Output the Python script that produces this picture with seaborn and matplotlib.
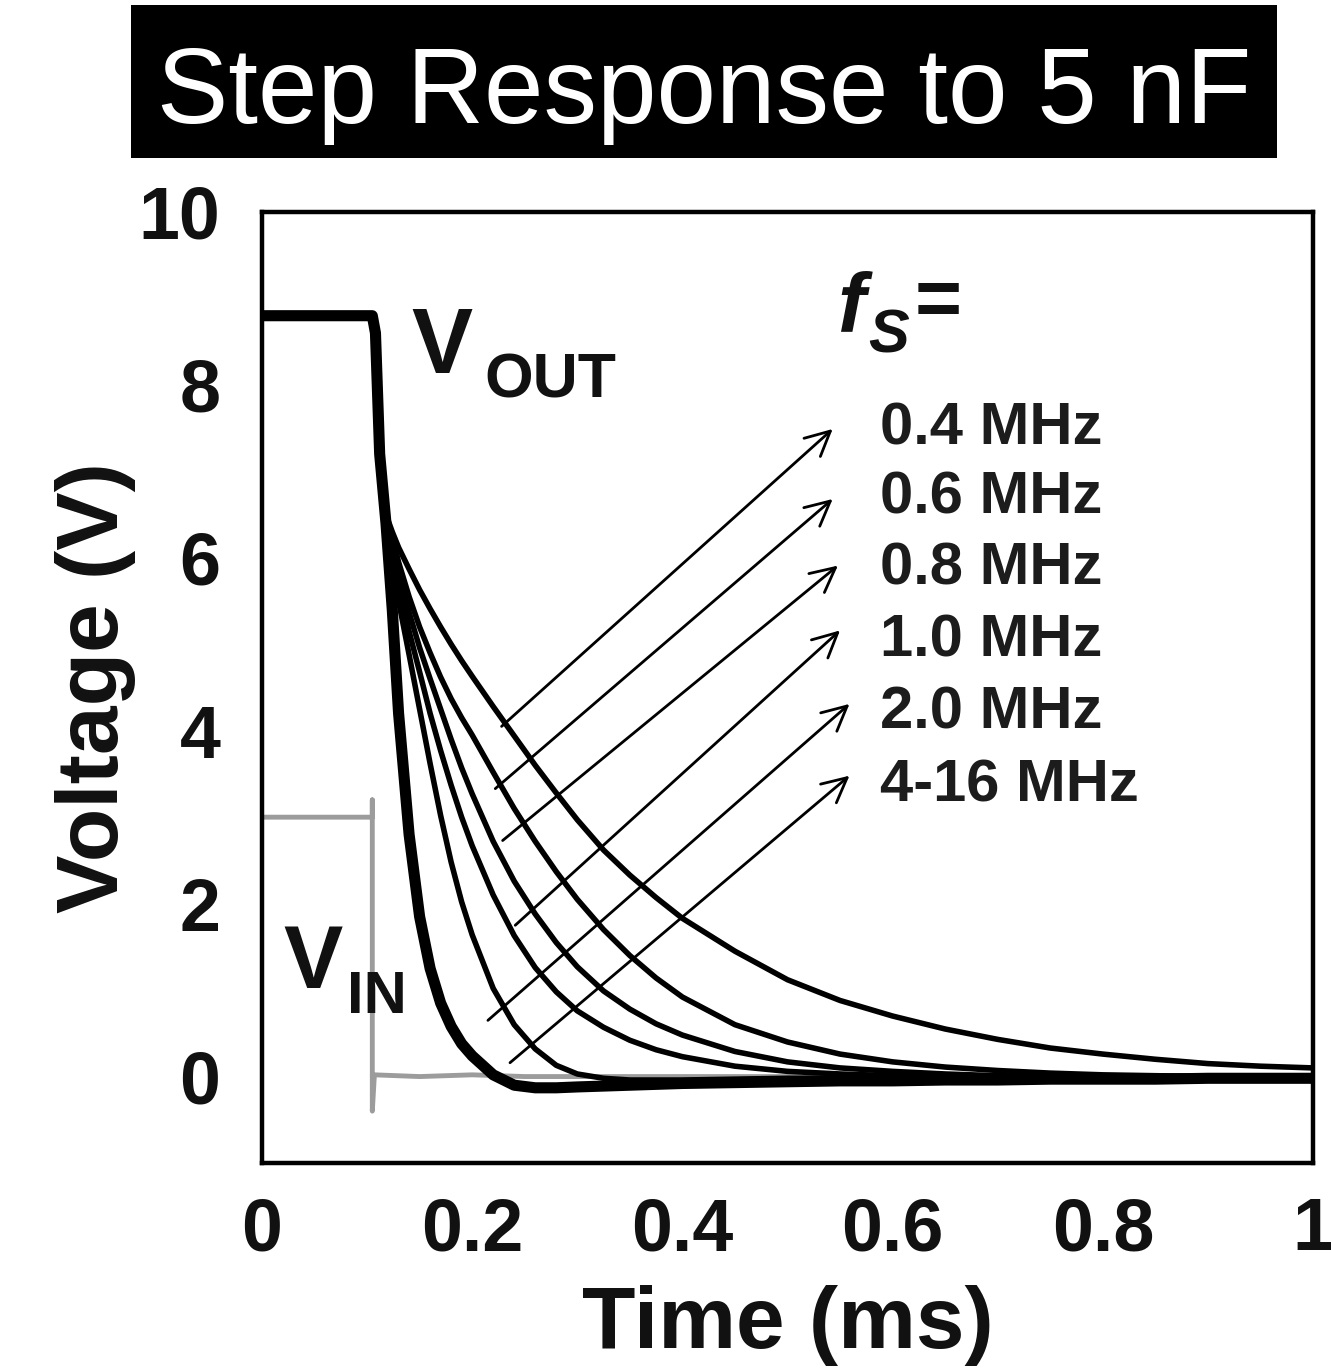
import numpy as np
import pandas as pd
import matplotlib
matplotlib.use("Agg")
import matplotlib.pyplot as plt
import seaborn as sns
from matplotlib.patches import Rectangle

# time axis (ms) shared by all output traces
t_ms = [0.0, 0.105, 0.108, 0.112, 0.118, 0.124, 0.13, 0.14, 0.15, 0.16, 0.17, 0.18,
        0.19, 0.2, 0.22, 0.24, 0.26, 0.28, 0.3, 0.325, 0.35, 0.375, 0.4, 0.45, 0.5,
        0.55, 0.6, 0.65, 0.7, 0.75, 0.8, 0.85, 0.9, 0.95, 1.0]

# V_OUT for each switching frequency
v_04 = [8.8, 8.8, 8.6, 7.2, 6.5, 6.3, 6.12, 5.87, 5.63, 5.41, 5.2, 5.0,
        4.81, 4.63, 4.28, 3.94, 3.6, 3.28, 2.97, 2.62, 2.33, 2.07, 1.83, 1.45, 1.12,
        0.88, 0.7, 0.55, 0.43, 0.33, 0.26, 0.2, 0.15, 0.12, 0.1]
v_06 = [8.8, 8.8, 8.6, 7.2, 6.5, 6.25, 5.95, 5.55, 5.2, 4.9, 4.62, 4.37,
        4.15, 3.95, 3.52, 3.1, 2.72, 2.37, 2.05, 1.7, 1.4, 1.14, 0.92, 0.6, 0.4,
        0.26, 0.17, 0.11, 0.07, 0.04, 0.02, 0.01, 0.0, 0.0, 0.0]
v_08 = [8.8, 8.8, 8.6, 7.2, 6.5, 6.2, 5.85, 5.37, 4.96, 4.6, 4.25, 3.9,
        3.57, 3.27, 2.72, 2.26, 1.88, 1.55, 1.27, 0.99, 0.78, 0.61, 0.48, 0.29, 0.17,
        0.1, 0.06, 0.03, 0.01, 0.0, 0.0, 0.0, 0.0, 0.0, 0.0]
v_10 = [8.8, 8.8, 8.6, 7.2, 6.5, 6.1, 5.7, 5.15, 4.68, 4.2, 3.77, 3.37,
        3.0, 2.67, 2.1, 1.63, 1.26, 0.98, 0.76, 0.57, 0.42, 0.31, 0.23, 0.12, 0.06,
        0.03, 0.01, 0.0, 0.0, 0.0, 0.0, 0.0, 0.0, 0.0, 0.0]
v_20 = [8.8, 8.8, 8.6, 7.2, 6.5, 6.0, 5.5, 4.88, 4.25, 3.62, 3.02, 2.48,
        2.02, 1.64, 1.02, 0.6, 0.32, 0.13, 0.03, -0.02, -0.04, -0.04, -0.04, -0.03, -0.02,
        -0.02, -0.01, -0.01, 0.0, 0.0, 0.0, 0.0, 0.0, 0.0, 0.0]
v_4_16 = [8.8, 8.8, 8.6, 7.2, 6.4, 5.4, 4.2, 2.8, 1.85, 1.25, 0.85, 0.58,
          0.38, 0.24, 0.02, -0.1, -0.13, -0.13, -0.12, -0.11, -0.1, -0.09, -0.08, -0.07, -0.06,
          -0.05, -0.05, -0.04, -0.04, -0.03, -0.03, -0.03, -0.02, -0.02, -0.02]

# V_IN step (gray trace)
t_in = [0.0, 0.105, 0.105, 0.105, 0.107, 0.15, 0.2, 0.25, 0.3, 0.4, 0.5, 0.6, 0.7, 0.8, 0.9, 1.0]
v_in = [3.0, 3.0, 3.2, -0.4, 0.02, 0.0, 0.02, 0.0, 0.0, 0.0, 0.0, 0.0, 0.0, 0.0, 0.0, 0.0]

freq_labels = ["0.4 MHz", "0.6 MHz", "0.8 MHz", "1.0 MHz", "2.0 MHz", "4-16 MHz"]
# arrow tail (on curve) and head (next to label), data coords
arrow_tail_t = [0.228, 0.222, 0.229, 0.241, 0.215, 0.236]
arrow_tail_v = [4.05, 3.33, 2.73, 1.75, 0.65, 0.16]
arrow_head_t = [0.543, 0.543, 0.548, 0.550, 0.559, 0.559]
arrow_head_v = [7.49, 6.68, 5.91, 5.16, 4.31, 3.48]
label_v = [7.49, 6.69, 5.87, 5.04, 4.21, 3.36]

curves = {"0.4 MHz": v_04, "0.6 MHz": v_06, "0.8 MHz": v_08,
          "1.0 MHz": v_10, "2.0 MHz": v_20, "4-16 MHz": v_4_16}

df = pd.concat([pd.DataFrame({"t": t_ms, "v": v, "curve": k}) for k, v in curves.items()],
               ignore_index=True)
vin_df = pd.DataFrame({"t": t_in, "v": v_in})

sns.set_style("white")
plt.rcParams["font.family"] = ["Liberation Sans", "DejaVu Sans"]

fig = plt.figure(figsize=(13.31, 13.71), dpi=100)
ax = fig.add_axes([0.1968, 0.1517, 0.7897, 0.6937])

sns.lineplot(data=vin_df, x="t", y="v", color="#9c9c9c", lw=3.5, sort=False,
             estimator=None, ax=ax)
for name in curves:
    sub = df[df["curve"] == name]
    lw = 8 if name == "4-16 MHz" else 4
    sns.lineplot(data=sub, x="t", y="v", color="black", lw=lw, sort=False,
                 estimator=None, ax=ax)

ax.set_xlim(0, 1)
ax.set_ylim(-1, 10)
ax.set_xticks([0, 0.2, 0.4, 0.6, 0.8, 1.0])
ax.set_xticklabels(["0", "0.2", "0.4", "0.6", "0.8", "1"])
ax.set_yticks([0, 2, 4, 6, 8, 10])
ax.set_yticks([-1, 1, 3, 5, 7, 9], minor=True)
ax.tick_params(axis="both", which="both", direction="in", length=9, width=2.5,
               labelsize=53, colors="black", labelcolor="#111111")
ax.tick_params(axis="y", which="major", pad=30)
ax.tick_params(axis="x", which="major", pad=24)
ax.tick_params(axis="y", which="minor", labelleft=False)
for lab in ax.get_xticklabels() + ax.get_yticklabels():
    lab.set_fontweight("bold")
for sp in ax.spines.values():
    sp.set_linewidth(3.2)
    sp.set_color("black")

ax.set_xlabel("Time (ms)", fontsize=63, fontweight="bold", labelpad=14, color="#111111")
ax.set_ylabel("Voltage (V)", fontsize=63, fontweight="bold", labelpad=2, color="#111111")

# arrows and frequency labels
for i, lab in enumerate(freq_labels):
    ax.annotate("", xy=(arrow_head_t[i], arrow_head_v[i]),
                xytext=(arrow_tail_t[i], arrow_tail_v[i]),
                arrowprops=dict(arrowstyle="->", lw=2, color="black",
                                mutation_scale=44, shrinkA=0, shrinkB=0))
    ax.text(0.588, label_v[i], lab, fontsize=43, fontweight="bold",
            color="#1c1c1c", ha="left", va="center")

# V_OUT / V_IN / f_S annotations
ax.text(0.142, 8.14, "V", fontsize=66, fontweight="bold", ha="left", va="baseline",
        color="#111111")
ax.text(0.212, 7.85, "OUT", fontsize=45, fontweight="bold", ha="left", va="baseline",
        color="#111111")
ax.text(0.020, 1.03, "V", fontsize=64, fontweight="bold", ha="left", va="baseline",
        color="#111111")
ax.text(0.081, 0.74, "IN", fontsize=43, fontweight="bold", ha="left", va="baseline",
        color="#111111")
ax.text(0.548, 8.62, "f", fontsize=60, fontweight="bold", style="italic",
        ha="left", va="baseline", color="#111111")
ax.text(0.577, 8.37, "S", fontsize=44, fontweight="bold", style="italic",
        ha="left", va="baseline", color="#111111")
ax.text(0.621, 8.68, "=", fontsize=58, fontweight="bold", ha="left", va="baseline",
        color="#111111")

# title box
fig.patches.append(Rectangle((0.0984, 0.8848), 0.861, 0.1116, transform=fig.transFigure,
                             facecolor="black", edgecolor="none"))
fig.text(0.529, 0.9103, "Step Response to 5 nF", color="white", fontsize=77,
         ha="center", va="baseline")

fig.savefig("out.png", dpi=100)
